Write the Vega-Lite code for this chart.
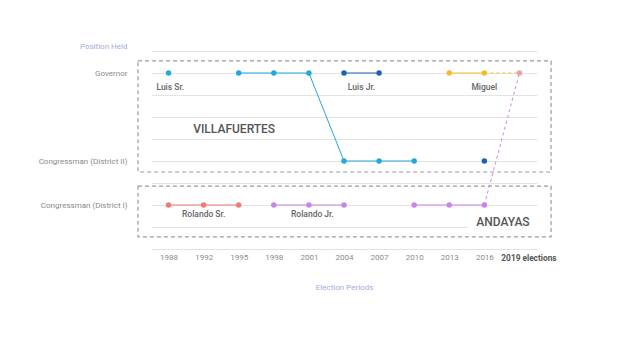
{
  "$schema": "https://vega.github.io/schema/vega-lite/v6.json",
  "width": 386,
  "height": 198,
  "padding": {"left": 38, "top": 42, "right": 5, "bottom": 5},
  "background": "white",
  "config": {"font": "Roboto", "view": {"stroke": null}},
  "datasets": {
    "boxes": [
      {"family": "Villafuertes", "x0": -0.87, "x1": 10.9, "y0": 3.5, "y1": 8.55},
      {"family": "Andayas", "x0": -0.87, "x1": 10.9, "y0": 0.55, "y1": 2.86}
    ],
    "names": [
      {"label": "Luis Sr.", "i": 0.05, "y": 7.36, "kind": "person"},
      {"label": "Luis Jr.", "i": 5.5, "y": 7.36, "kind": "person"},
      {"label": "Miguel", "i": 9, "y": 7.36, "kind": "person"},
      {"label": "Rolando Sr.", "i": 1, "y": 1.6, "kind": "person"},
      {"label": "Rolando Jr.", "i": 4.1, "y": 1.6, "kind": "person"},
      {"label": "VILLAFUERTES", "i": 1.87, "y": 5.45, "kind": "family"},
      {"label": "ANDAYAS", "i": 9.53, "y": 1.23, "kind": "family"}
    ],
    "lines": [
      {"seg": "LS1", "who": "Luis Sr.", "i": 2, "y": 8},
      {"seg": "LS1", "who": "Luis Sr.", "i": 3, "y": 8},
      {"seg": "LS1", "who": "Luis Sr.", "i": 4, "y": 8},
      {"seg": "LS1", "who": "Luis Sr.", "i": 5, "y": 4},
      {"seg": "LS1", "who": "Luis Sr.", "i": 6, "y": 4},
      {"seg": "LS1", "who": "Luis Sr.", "i": 7, "y": 4},
      {"seg": "LJ1", "who": "Luis Jr.", "i": 5, "y": 8},
      {"seg": "LJ1", "who": "Luis Jr.", "i": 6, "y": 8},
      {"seg": "MG1", "who": "Miguel", "i": 8, "y": 8},
      {"seg": "MG1", "who": "Miguel", "i": 9, "y": 8},
      {"seg": "RS1", "who": "Rolando Sr.", "i": 0, "y": 2},
      {"seg": "RS1", "who": "Rolando Sr.", "i": 1, "y": 2},
      {"seg": "RS1", "who": "Rolando Sr.", "i": 2, "y": 2},
      {"seg": "RJ1", "who": "Rolando Jr.", "i": 3, "y": 2},
      {"seg": "RJ1", "who": "Rolando Jr.", "i": 4, "y": 2},
      {"seg": "RJ1", "who": "Rolando Jr.", "i": 5, "y": 2},
      {"seg": "RJ2", "who": "Rolando Jr.", "i": 7, "y": 2},
      {"seg": "RJ2", "who": "Rolando Jr.", "i": 8, "y": 2},
      {"seg": "RJ2", "who": "Rolando Jr.", "i": 9, "y": 2}
    ],
    "dashed": [
      {"seg": "MGd", "who": "Miguel", "i": 9, "y": 8},
      {"seg": "MGd", "who": "Miguel", "i": 10, "y": 8},
      {"seg": "RJd", "who": "Rolando Jr.", "i": 9, "y": 2},
      {"seg": "RJd", "who": "Rolando Jr.", "i": 10, "y": 8}
    ],
    "points": [
      {"who": "Luis Sr.", "i": 0, "y": 8},
      {"who": "Luis Sr.", "i": 2, "y": 8},
      {"who": "Luis Sr.", "i": 3, "y": 8},
      {"who": "Luis Sr.", "i": 4, "y": 8},
      {"who": "Luis Sr.", "i": 5, "y": 4},
      {"who": "Luis Sr.", "i": 6, "y": 4},
      {"who": "Luis Sr.", "i": 7, "y": 4},
      {"who": "Luis Jr.", "i": 5, "y": 8},
      {"who": "Luis Jr.", "i": 6, "y": 8},
      {"who": "Luis Jr.", "i": 9, "y": 4},
      {"who": "Miguel", "i": 8, "y": 8},
      {"who": "Miguel", "i": 9, "y": 8},
      {"who": "Rolando Sr.", "i": 0, "y": 2},
      {"who": "Rolando Sr.", "i": 1, "y": 2},
      {"who": "Rolando Sr.", "i": 2, "y": 2},
      {"who": "Rolando Jr.", "i": 3, "y": 2},
      {"who": "Rolando Jr.", "i": 4, "y": 2},
      {"who": "Rolando Jr.", "i": 5, "y": 2},
      {"who": "Rolando Jr.", "i": 7, "y": 2},
      {"who": "Rolando Jr.", "i": 8, "y": 2},
      {"who": "Rolando Jr.", "i": 9, "y": 2},
      {"who": "2019 race", "i": 10, "y": 8}
    ]
  },
  "encoding": {
    "x": {
      "field": "i", "type": "quantitative",
      "scale": {"domain": [-0.5, 10.5], "nice": false, "zero": false},
      "axis": {
        "title": "Election Periods",
        "values": [0, 1, 2, 3, 4, 5, 6, 7, 8, 9, 10],
        "labelExpr": "['1988','1992','1995','1998','2001','2004','2007','2010','2013','2016','2019 elections'][datum.value]",
        "grid": false, "domain": false, "ticks": false,
        "labelPadding": 4, "labelFlush": false, "labelOverlap": false,
        "labelColor": {"condition": {"test": "datum.value == 10", "value": "#555555"}, "value": "#8a8a8a"},
        "labelFontWeight": {"condition": {"test": "datum.value == 10", "value": "bold"}, "value": "normal"},
        "labelFontSize": {"condition": {"test": "datum.value == 10", "value": 8.3}, "value": 8},
        "labelOffset": {"condition": {"test": "datum.value == 10", "value": 9}, "value": 0},
        "titleColor": "#a3acdd", "titleFontWeight": "normal", "titleFontSize": 8, "titlePadding": 22
      }
    },
    "y": {
      "field": "y", "type": "quantitative",
      "scale": {"domain": [0, 9], "nice": false, "zero": false},
      "axis": {
        "title": "Position Held",
        "values": [0, 1, 2, 3, 4, 5, 6, 7, 8, 9],
        "labelExpr": "datum.value == 8 ? 'Governor' : datum.value == 4 ? 'Congressman (District II)' : datum.value == 2 ? 'Congressman (District I)' : ''",
        "grid": true, "gridColor": "#e3e3e3", "gridWidth": 1,
        "domain": false, "ticks": false, "labelPadding": 24,
        "labelFontSize": 8, "labelColor": "#8a8a8a",
        "titleAngle": 0, "titleAlign": "right", "titleBaseline": "middle",
        "titleX": -24, "titleY": -5,
        "titleColor": "#a3acdd", "titleFontWeight": "normal", "titleFontSize": 8
      }
    }
  },
  "layer": [
    {
      "data": {"name": "boxes"},
      "mark": {"type": "rect", "filled": false, "stroke": "#9b9b9b", "strokeWidth": 1.2, "strokeDash": [4, 3], "clip": false},
      "encoding": {
        "x": {"field": "x0", "type": "quantitative"},
        "x2": {"field": "x1"},
        "y": {"field": "y0", "type": "quantitative"},
        "y2": {"field": "y1"}
      }
    },
    {
      "data": {"name": "names"},
      "transform": [{"filter": "datum.kind == 'family' && datum.label == 'ANDAYAS'"}],
      "mark": {"type": "rect", "width": 69, "height": 16, "fill": "white"},
      "encoding": {}
    },
    {
      "data": {"name": "lines"},
      "mark": {"type": "line", "strokeWidth": 1},
      "encoding": {
        "detail": {"field": "seg"},
        "color": {"field": "who", "type": "nominal", "legend": null,
          "scale": {"domain": ["Luis Sr.", "Luis Jr.", "Miguel", "Rolando Sr.", "Rolando Jr.", "2019 race"],
                    "range": ["#22a7e0", "#1a62b2", "#f7bb2a", "#f07b72", "#c983ec", "#eca29a"]}}
      }
    },
    {
      "data": {"name": "dashed"},
      "mark": {"type": "line", "strokeWidth": 1, "strokeDash": [3, 3]},
      "encoding": {
        "detail": {"field": "seg"},
        "color": {"field": "who", "type": "nominal", "legend": null}
      }
    },
    {
      "data": {"name": "points"},
      "mark": {"type": "circle", "size": 30, "opacity": 1},
      "encoding": {
        "color": {"field": "who", "type": "nominal", "legend": null}
      }
    },
    {
      "data": {"name": "names"},
      "transform": [{"filter": "datum.kind == 'person'"}],
      "mark": {"type": "text", "fontSize": 8.5, "fontWeight": 500, "color": "#666666", "baseline": "middle", "align": "center"},
      "encoding": {"text": {"field": "label"}}
    },
    {
      "data": {"name": "names"},
      "transform": [{"filter": "datum.kind == 'family'"}],
      "mark": {"type": "text", "fontSize": 12, "fontWeight": 500, "color": "#555555", "baseline": "middle", "align": "center"},
      "encoding": {"text": {"field": "label"}}
    }
  ],
  "resolve": {"scale": {"color": "shared"}}
}
